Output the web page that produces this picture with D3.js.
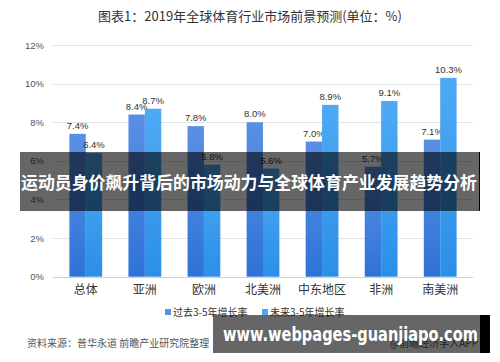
<!DOCTYPE html>
<html>
<head>
<meta charset="utf-8">
<script src="https://cdn.jsdelivr.net/npm/d3@7"></script>
<style>
  body { margin: 0; background: #fff; }
  svg { display: block; font-family: "Noto Sans CJK SC", "Noto Sans", sans-serif; }
</style>
</head>
<body>
<svg id="canvas" width="500" height="362"></svg>
<script>
// Chart data
const categories = ["总体", "亚洲", "欧洲", "北美洲", "中东地区", "非洲", "南美洲"];
const pastGrowth = [7.4, 8.4, 7.8, 8.0, 7.0, 5.7, 7.1];
const futureGrowth = [6.4, 8.7, 5.8, 5.6, 8.9, 9.1, 10.3];
const seriesNames = ["过去3-5年增长率", "未来3-5年增长率"];
const yTicks = [0, 2, 4, 6, 8, 10, 12];

const svg = d3.select("#canvas");
const margin = { left: 53, right: 27 };
const plotW = 500 - margin.left - margin.right;
const y0 = 276.7, yTop = 45;
const numFont = "Liberation Sans, Arial, sans-serif";

// Gradients for bars
const defs = svg.append("defs");
const gradColors = [["#5a90e4", "#2e73d7"], ["#4eaaf4", "#2b8fe8"]];
gradColors.forEach((c, i) => {
  const g = defs.append("linearGradient").attr("id", "g" + i)
    .attr("x1", 0).attr("y1", 0).attr("x2", 0).attr("y2", 1);
  g.append("stop").attr("offset", "0%").attr("stop-color", c[0]);
  g.append("stop").attr("offset", "100%").attr("stop-color", c[1]);
});

const x = d3.scaleBand().domain(categories).range([margin.left, margin.left + plotW]).paddingInner(0.445).paddingOuter(0.2775);
const xs = d3.scaleBand().domain([0, 1]).range([0, x.bandwidth()]);
const y = d3.scaleLinear().domain([0, 12]).range([y0, yTop]);

// Title
svg.append("text").attr("x", 250).attr("y", 21).attr("text-anchor", "middle")
  .attr("font-size", 13).attr("fill", "#333")
  .text("图表1：2019年全球体育行业市场前景预测(单位：%)");

// Gridlines and y ticks
svg.append("g").selectAll("line").data(yTicks).enter().append("line")
  .attr("x1", margin.left).attr("x2", margin.left + plotW)
  .attr("y1", d => Math.round(y(d)) + 0.5).attr("y2", d => Math.round(y(d)) + 0.5)
  .attr("stroke", d => d === 0 ? "#d0d0d0" : "#e3e3e3").attr("stroke-width", 1);

svg.append("g").selectAll("text").data(yTicks).enter().append("text")
  .attr("x", 44).attr("y", d => y(d) + 3.5).attr("text-anchor", "end")
  .attr("font-size", 9.5).attr("font-family", numFont).attr("fill", "#555")
  .text(d => d + "%");

// Bars
const series = [pastGrowth, futureGrowth];
series.forEach((vals, si) => {
  const g = svg.append("g");
  g.selectAll("rect").data(vals).enter().append("rect")
    .attr("x", (d, i) => x(categories[i]) + xs(si))
    .attr("y", d => y(d))
    .attr("width", xs.bandwidth())
    .attr("height", d => y0 - y(d))
    .attr("fill", "url(#g" + si + ")");
  g.selectAll("text").data(vals).enter().append("text")
    .attr("x", (d, i) => x(categories[i]) + xs(si) + xs.bandwidth() / 2)
    .attr("y", d => y(d) - 5)
    .attr("text-anchor", "middle").attr("font-size", 9.5)
    .attr("font-family", numFont).attr("fill", "#333")
    .text(d => d.toFixed(1) + "%");
});

// Category labels
svg.append("g").selectAll("text").data(categories).enter().append("text")
  .attr("x", d => x(d) + x.bandwidth() / 2).attr("y", 294)
  .attr("text-anchor", "middle").attr("font-size", 12).attr("fill", "#333")
  .text(d => d);

// Legend
const legX = [165, 262];
seriesNames.forEach((name, i) => {
  svg.append("rect").attr("x", legX[i]).attr("y", 309).attr("width", 6).attr("height", 6)
    .attr("fill", gradColors[i][0]);
  svg.append("text").attr("x", legX[i] + 8).attr("y", 316)
    .attr("font-size", 10).attr("fill", "#333").text(name);
});

// Source line
svg.append("text").attr("x", 27).attr("y", 347).attr("font-size", 10).attr("fill", "#555")
  .text("资料来源：普华永道 前瞻产业研究院整理");
svg.append("text").attr("x", 478).attr("y", 347).attr("text-anchor", "end")
  .attr("font-size", 10).attr("fill", "#555").text("@前瞻经济学人APP");

// Overlay banner
svg.append("rect").attr("x", 20).attr("y", 152).attr("width", 460).attr("height", 59)
  .attr("fill", "rgba(0,0,0,0.6)");
svg.append("line").attr("x1", 479.5).attr("x2", 479.5).attr("y1", 152).attr("y2", 211)
  .attr("stroke", "#000").attr("stroke-width", 1);
svg.append("text").attr("x", 21).attr("y", 189)
  .attr("font-size", 17.5).attr("font-weight", "bold").attr("fill", "#fff")
  .attr("textLength", 456).attr("lengthAdjust", "spacingAndGlyphs")
  .text("运动员身价飙升背后的市场动力与全球体育产业发展趋势分析");

// Bottom-right watermark box
svg.append("rect").attr("x", 213).attr("y", 315).attr("width", 267).attr("height", 38)
  .attr("fill", "rgba(0,0,0,0.6)");
svg.append("rect").attr("x", 480).attr("y", 315).attr("width", 10).attr("height", 38)
  .attr("fill", "#000");
svg.append("text").attr("x", 223).attr("y", 341)
  .attr("font-size", 19).attr("font-weight", "bold").attr("fill", "#fff")
  .attr("font-family", "DejaVu Sans, sans-serif")
  .attr("textLength", 255).attr("lengthAdjust", "spacingAndGlyphs")
  .text("www.webpages-guanjiapo.com");
</script>
</body>
</html>
